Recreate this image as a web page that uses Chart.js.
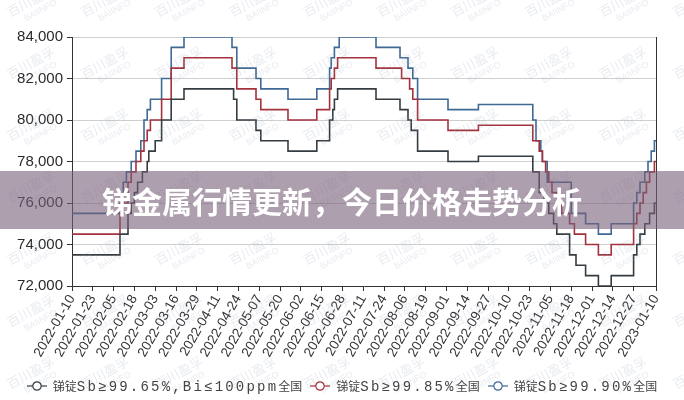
<!DOCTYPE html>
<html>
<head>
<meta charset="utf-8">
<script src="https://cdn.jsdelivr.net/npm/chart.js@4.4.1/dist/chart.umd.min.js"></script>
<style>
  html, body { margin: 0; padding: 0; background: #fff; }
  #wrap { position: relative; width: 684px; height: 400px; overflow: hidden; }
  #banner {
    position: absolute; left: 0; top: 171px; width: 684px; height: 58px;
    background: rgba(120, 95, 120, 0.6); color: #fff;
    font: bold 30px "Noto Sans CJK SC"; line-height: 58px; text-align: center;
  }
  #legend {
    position: absolute; left: 0; top: 377px; width: 684px; height: 18px;
    display: flex; justify-content: center; align-items: center;
    font: 12px "Noto Sans CJK SC"; color: #444; white-space: nowrap;
  }
  #legend .item { display: flex; align-items: center; margin: 0 4px; }
  #legend svg { margin-right: 6px; }
  #legend .lat { font: 14px "Liberation Mono"; letter-spacing: 2.2px; }
</style>
</head>
<body>
<div id="wrap">
  <canvas id="c" width="684" height="400"></canvas>
  <div id="banner"></div>
  <div id="legend"></div>
</div>
<script>
// x axis tick labels (every 13 days, last one is the end date)
var tickDates = ["2022-01-10","2022-01-23","2022-02-05","2022-02-18","2022-03-03","2022-03-16",
  "2022-03-29","2022-04-11","2022-04-24","2022-05-07","2022-05-20","2022-06-02","2022-06-15",
  "2022-06-28","2022-07-11","2022-07-24","2022-08-06","2022-08-19","2022-09-01","2022-09-14",
  "2022-09-27","2022-10-10","2022-10-23","2022-11-05","2022-11-18","2022-12-01","2022-12-14",
  "2022-12-27","2023-01-10"];

var seriesNames = ["锑锭Sb≥99.65%,Bi≤100ppm全国", "锑锭Sb≥99.85%全国", "锑锭Sb≥99.90%全国"];
var seriesColors = ["#353c41", "#a3323c", "#3e6a94"];

var bannerText = "锑金属行情更新，今日价格走势分析";
var watermarkText = "百川盈孚";

// price changes: each value holds from its date until the next date
var sb9965Dates = ["2022-01-10","2022-02-09","2022-02-14","2022-02-16","2022-02-18","2022-02-20",
  "2022-02-23","2022-02-26","2022-02-27","2022-03-03","2022-03-07","2022-03-13","2022-03-21",
  "2022-04-21","2022-04-23","2022-05-05","2022-05-08","2022-05-25","2022-06-12","2022-06-20",
  "2022-06-22","2022-06-23","2022-06-25","2022-07-19","2022-08-03","2022-08-08","2022-08-10",
  "2022-08-14","2022-09-02","2022-09-21","2022-10-25","2022-10-29","2022-11-01","2022-11-04",
  "2022-11-07","2022-11-09","2022-11-17","2022-11-21","2022-11-27","2022-12-05","2022-12-13",
  "2022-12-27","2022-12-29","2022-12-31","2023-01-03","2023-01-06","2023-01-09","2023-01-10"];
var sb9965Values = [73500,74500,75500,76000,76500,77000,
  77500,78000,78500,79000,80000,81000,81500,
  81000,80000,79500,79000,78500,79000,80000,
  80500,81000,81500,81000,80500,80000,79500,
  78500,78000,78250,77500,76500,76000,75500,
  75000,74500,73500,73000,72500,72000,72500,
  73500,74000,74500,75000,75500,76000,76000];

var sb9985Dates = ["2022-01-10","2022-02-09","2022-02-11","2022-02-14","2022-02-16","2022-02-19",
  "2022-02-22","2022-02-24","2022-02-26","2022-02-28","2022-03-07","2022-03-13","2022-03-21",
  "2022-04-20","2022-04-23","2022-05-05","2022-05-08","2022-05-25","2022-06-12","2022-06-20",
  "2022-06-21","2022-06-23","2022-06-25","2022-07-19","2022-08-04","2022-08-09","2022-08-11",
  "2022-08-14","2022-09-02","2022-09-21","2022-10-25","2022-10-29","2022-10-31","2022-11-02",
  "2022-11-04","2022-11-06","2022-11-09","2022-11-12","2022-11-17","2022-11-20","2022-11-27",
  "2022-12-05","2022-12-13","2022-12-27","2022-12-29","2022-12-31","2023-01-02","2023-01-04",
  "2023-01-06","2023-01-09","2023-01-10"];
var sb9985Values = [74500,75500,76000,77000,77500,78000,
  78500,79000,79500,80000,81000,82500,83000,
  82500,81500,81000,80500,80000,80500,81500,
  82000,82500,83000,82500,82000,81500,81000,
  80000,79500,79750,79000,78500,78000,77500,
  77000,76500,76000,75500,75000,74500,74000,
  73500,74000,75000,75500,76000,76500,77000,
  77500,78000,78000];

var sb9990Dates = ["2022-01-10","2022-02-09","2022-02-11","2022-02-13","2022-02-16","2022-02-19",
  "2022-02-22","2022-02-24","2022-02-26","2022-02-28","2022-03-07","2022-03-13","2022-03-21",
  "2022-04-20","2022-04-23","2022-05-05","2022-05-08","2022-05-25","2022-06-12","2022-06-20",
  "2022-06-21","2022-06-23","2022-06-26","2022-07-19","2022-08-03","2022-08-08","2022-08-11",
  "2022-08-14","2022-09-02","2022-09-21","2022-10-25","2022-10-27","2022-10-30","2022-10-31",
  "2022-11-03","2022-11-18","2022-11-27","2022-12-05","2022-12-13","2022-12-27","2022-12-29",
  "2022-12-31","2023-01-03","2023-01-05","2023-01-07","2023-01-09","2023-01-10"];
var sb9990Values = [75500,76000,77000,77500,78000,78500,
  79000,80000,80500,81000,82000,83500,84000,
  83500,82500,82000,81500,81000,81500,82500,
  83000,83500,84000,83500,83000,82500,82000,
  81000,80500,80750,80000,79000,78500,78000,
  77000,75500,75000,74500,75000,76000,76500,
  77000,77500,78000,78500,79000,79000];

var day0 = Date.parse(tickDates[0]);
function dayOf(d) { return Math.round((Date.parse(d) - day0) / 86400000); }
function points(dates, values) {
  return dates.map(function(d, i) { return { x: dayOf(d), y: values[i] }; });
}

var seriesData = [points(sb9965Dates, sb9965Values), points(sb9985Dates, sb9985Values), points(sb9990Dates, sb9990Values)];

// faint tiled watermark like the source image
var watermark = {
  id: "watermark",
  afterDraw: function(chart) {
    var c = chart.ctx;
    c.save();
    c.fillStyle = "rgba(150,165,185,0.22)";
    c.textAlign = "center";
    for (var y = 5; y < 430; y += 62) {
      for (var x = 33; x < 720; x += 74) {
        c.save();
        c.translate(x, y);
        c.rotate(-0.5);
        c.font = "13px 'Noto Sans CJK SC'";
        c.fillText(watermarkText, 0, 0);
        c.font = "9px 'Liberation Sans'";
        c.fillText("BAIINFO", 4, 11);
        c.restore();
      }
    }
    c.restore();
  }
};

var datasets = seriesNames.map(function(name, i) {
  return {
    label: name,
    data: seriesData[i],
    borderColor: seriesColors[i],
    backgroundColor: seriesColors[i],
    borderWidth: 1.6,
    stepped: true,
    pointRadius: 0,
    fill: false
  };
});

var chart = new Chart(document.getElementById("c"), {
  type: "line",
  data: { datasets: datasets },
  options: {
    responsive: false,
    animation: false,
    layout: { padding: { top: 37, right: 28, left: 0, bottom: 34 } },
    plugins: { legend: { display: false }, tooltip: { enabled: false } },
    scales: {
      x: {
        type: "linear",
        min: 0,
        max: dayOf(tickDates[tickDates.length - 1]),
        afterBuildTicks: function(axis) {
          axis.ticks = tickDates.map(function(d) { return { value: dayOf(d) }; });
        },
        afterFit: function(axis) { axis.height = 80; },
        ticks: {
          autoSkip: false,
          maxRotation: 60,
          minRotation: 60,
          padding: 1,
          color: "#333",
          font: { family: "Liberation Sans", size: 13.5 },
          callback: function(v, i) { return tickDates[i]; }
        },
        grid: { drawOnChartArea: false, tickLength: 5, color: "#333" },
        border: { color: "#333", width: 1 }
      },
      y: {
        min: 72000,
        max: 84000,
        afterFit: function(axis) { axis.width = 72; },
        ticks: {
          stepSize: 2000,
          padding: 4,
          color: "#2a2a2a",
          font: { family: "Liberation Sans", size: 15 },
          callback: function(v) { return v.toLocaleString("en-US"); }
        },
        grid: { color: "#cfcfcf", tickLength: 5, tickColor: "#333" },
        border: { color: "#333", width: 1 }
      },
      y2: {
        position: "right",
        min: 72000,
        max: 84000,
        afterFit: function(axis) { axis.width = 0; },
        ticks: { display: false },
        grid: { drawOnChartArea: false, drawTicks: false },
        border: { color: "#333", width: 1 }
      }
    }
  },
  plugins: [watermark]
});

document.getElementById("banner").textContent = bannerText;

// legend with line-and-hollow-circle symbols
var legend = document.getElementById("legend");
seriesNames.forEach(function(name, i) {
  var item = document.createElement("span");
  item.className = "item";
  var col = seriesColors[i];
  var text = name.replace(/[^\u4e00-\u9fff]+/g, function(s) { return '<span class="lat">' + s + '</span>'; });
  item.innerHTML = '<svg width="20" height="12"><line x1="0" y1="6" x2="20" y2="6" stroke="' + col +
    '" stroke-width="1.2"/><circle cx="10" cy="6" r="4.2" fill="#fff" stroke="' + col + '" stroke-width="1.2"/></svg>' +
    '<span>' + text + '</span>';
  legend.appendChild(item);
});
</script>
</body>
</html>
